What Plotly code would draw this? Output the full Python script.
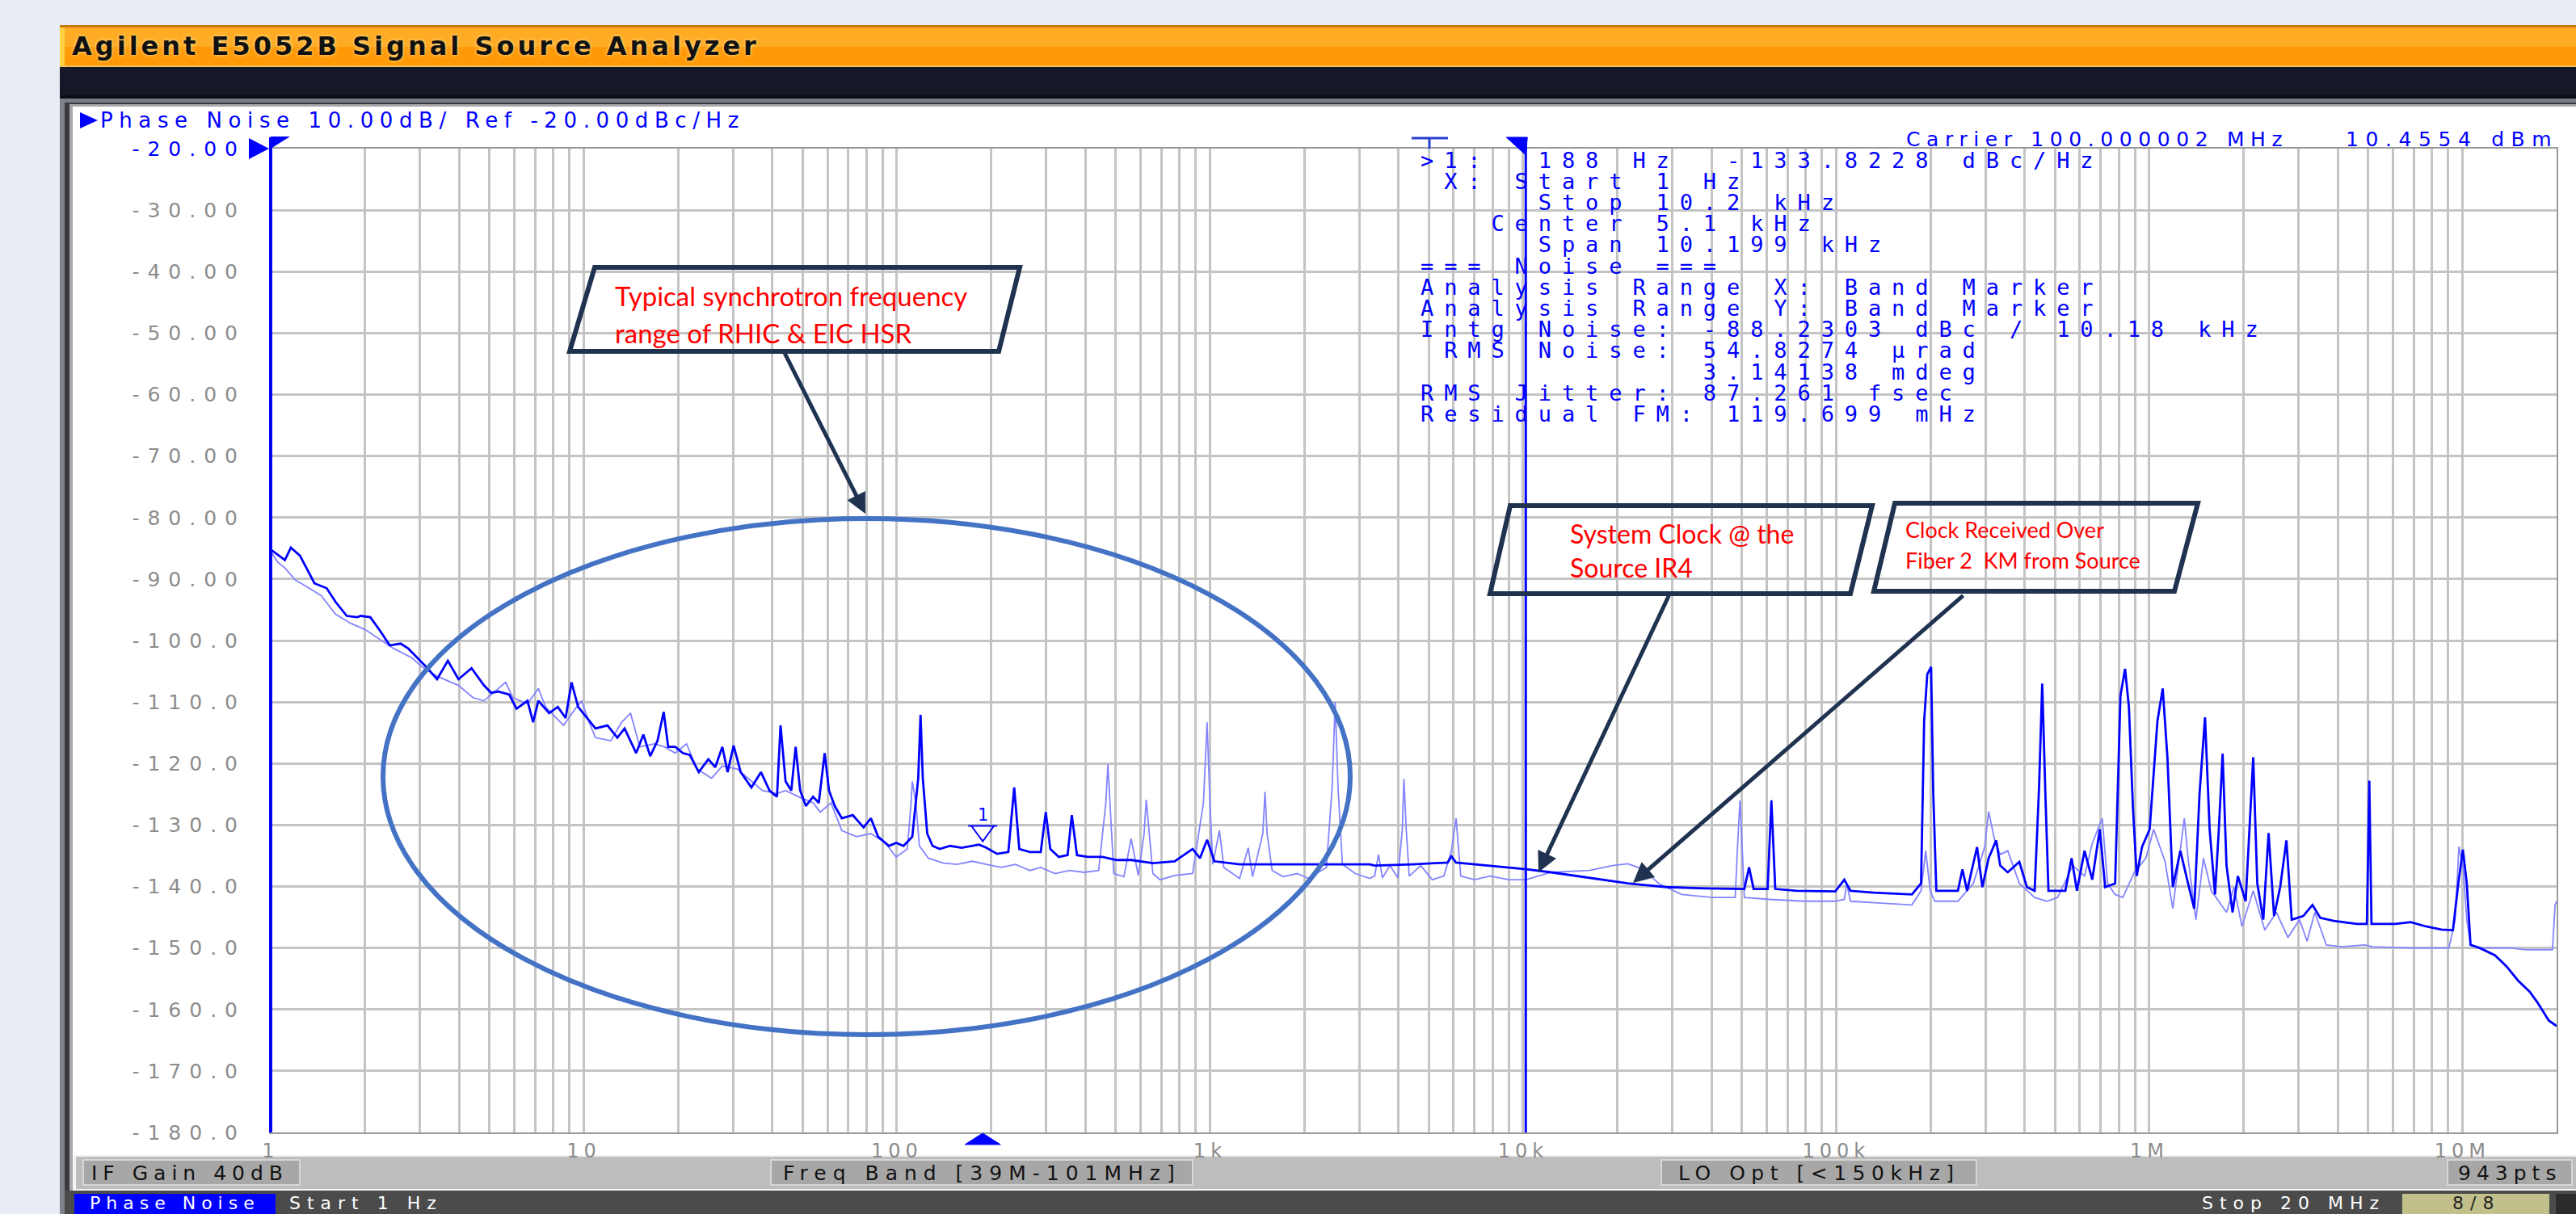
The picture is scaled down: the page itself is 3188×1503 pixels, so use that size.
import math
import plotly.graph_objects as go

# ---------------- data ----------------
# Trace A: dark blue (System clock @ the source IR4)
trace_a_freq_hz = [
    1, 1.11, 1.16, 1.24, 1.38, 1.51, 1.61, 1.75, 1.89, 1.94,
    2.08, 2.22, 2.40, 2.60, 2.75, 2.90, 3.14, 3.40, 3.68, 3.98,
    4.38, 4.80, 5.06, 5.34, 5.78, 6.10, 6.61, 6.89, 7.16, 7.75,
    8.26, 8.75, 9.14, 9.59, 10.3, 10.9, 11.9, 12.8, 13.5, 14.7,
    15.5, 16.3, 17.2, 18.0, 18.6, 19.6, 20.7, 21.8, 23.3, 25.0,
    26.3, 27.7, 28.8, 30.1, 31.7, 34.3, 36.8, 39.2, 41.4, 42.5,
    44.1, 46.0, 47.5, 49.1, 51.2, 54.0, 56.3, 58.8, 60.7, 63.3,
    66.7, 72.3, 78.3, 82.6, 87.1, 94.3, 99.5, 105, 112, 117,
    119, 121, 125, 130, 137, 148, 161, 174, 183, 193,
    209, 227, 237, 246, 266, 288, 299, 309, 329, 351,
    362, 376, 407, 453, 504, 560, 657, 771, 880, 929,
    979, 1033, 1244, 1538, 2009, 2483, 3239,
    3357, 4453, 5745, 5905, 6109, 7834, 10210, 12300, 16300, 21600,
    28700, 38000, 50900, 52700, 54500, 60400, 62100, 63900, 74800, 99300,
    106200, 111100, 131600, 174600, 186700, 191000, 195400, 201000, 204200, 208900,
    244800, 253100, 261900, 281800, 293100, 306900, 324500, 334100, 353200, 384600,
    406500, 430500, 444800, 455100, 465700, 476500, 539500, 564800, 587500, 621300,
    657600, 695100, 722900, 778000, 809000, 837000, 861000, 887000, 912000, 948000,
    1003000, 1062000, 1104000, 1143000, 1189000, 1257000, 1330000, 1392000, 1448000, 1507000,
    1559000, 1622000, 1668000, 1715000, 1765000, 1845000, 1919000, 2032000, 2148000, 2213000,
    2313000, 2405000, 2504000, 2619000, 2742000, 2851000, 3104000, 3321000, 3516000, 3890000,
    4604000, 4955000, 5044000, 5126000, 6110000, 6839000, 7656000, 8570000, 9330000, 9706000,
    10040000, 10330000, 10620000, 11360000, 12710000, 13840000, 15060000, 16400000, 17340000, 18880000,
    20000000,
]
trace_a_dbc = [
    -85.2, -86.9, -84.9, -86.2, -90.7, -91.5, -93.7, -96.0, -96.2, -96.0,
    -96.2, -98.2, -100.8, -100.5, -101.3, -102.5, -104.3, -106.3, -103.3, -106.3,
    -104.5, -107.3, -108.5, -108.3, -108.8, -111.1, -109.8, -113.3, -109.8, -111.8,
    -110.8, -112.6, -106.8, -110.8, -112.8, -114.3, -113.8, -115.8, -114.3, -118.3,
    -115.3, -118.8, -116.3, -111.6, -117.3, -117.3, -118.3, -118.6, -121.4, -119.3,
    -120.6, -117.3, -121.4, -117.1, -121.4, -123.9, -121.4, -124.4, -125.4, -113.8,
    -122.9, -124.4, -117.3, -124.4, -126.9, -125.4, -126.4, -118.3, -124.4, -126.9,
    -128.9, -128.4, -130.4, -128.9, -131.9, -133.4, -132.9, -133.4, -131.9, -122.4,
    -112.1, -122.4, -131.4, -133.4, -133.9, -133.4, -133.7, -133.4, -133.2, -133.7,
    -134.7, -134.4, -123.9, -133.9, -134.4, -134.4, -127.9, -133.9, -135.2, -134.9,
    -128.4, -134.9, -135.2, -135.2, -135.7, -135.7, -136.2, -135.9, -133.9, -135.4,
    -132.4, -135.9, -136.4, -136.4, -136.4, -136.4, -136.4,
    -136.6, -136.4, -136.1, -135.1, -136.1, -136.6, -137.2, -137.7, -138.6, -139.5,
    -140.1, -140.3, -140.4, -136.9, -140.4, -140.4, -126.0, -140.4, -140.7, -140.8,
    -138.9, -140.7, -141.0, -141.3, -139.5, -113.1, -105.5, -104.3, -124.8, -140.7,
    -140.7, -137.2, -140.7, -133.6, -140.1, -135.4, -132.5, -136.6, -137.7, -136.0,
    -140.1, -140.7, -123.7, -107.0, -124.8, -140.7, -140.7, -135.4, -140.7, -134.2,
    -138.9, -130.7, -140.1, -139.5, -109.0, -104.6, -110.8, -127.2, -138.3, -133.6,
    -130.7, -113.1, -107.8, -119.0, -140.1, -134.2, -139.5, -143.6, -124.8, -112.5,
    -130.7, -141.3, -130.7, -118.4, -136.6, -144.2, -138.3, -142.4, -119.0, -139.5,
    -145.4, -131.3, -144.8, -140.1, -132.5, -145.4, -144.8, -143.0, -145.1, -145.6,
    -146.1, -146.1, -122.8, -146.1, -146.1, -145.8, -146.5, -147.0, -147.1, -139.5,
    -134.0, -139.5, -149.5, -150.0, -151.2, -153.0, -155.3, -157.1, -158.8, -161.8,
    -162.7,
]

# Trace B: light blue (clock received over 2 km fibre)
trace_b_freq_hz = [
    1, 1.05, 1.11, 1.20, 1.30, 1.45, 1.61, 1.80, 2.00, 2.22,
    2.47, 2.82, 3.05, 3.40, 3.98, 4.43, 4.80, 5.20, 5.63, 5.94,
    6.61, 7.16, 7.55, 8.62, 9.33, 9.84, 10.4, 10.9, 12.2, 13.2,
    14.1, 15.1, 16.8, 18.1, 19.6, 21.3, 23.0, 25.6, 27.7, 30.9,
    33.4, 37.2, 41.4, 44.1, 48.5, 54.0, 56.9, 61.6, 66.7, 74.3,
    82.6, 91.8, 99.5, 108, 111, 112, 115, 118, 126, 141,
    156, 174, 193, 215, 239, 266, 288, 320, 356, 396,
    441, 465, 472, 480, 493, 531, 560, 590, 616, 626,
    640, 657, 693, 771, 880, 953, 979, 1000, 1021, 1072,
    1107, 1244, 1325, 1368, 1475, 1499, 1522, 1580, 1711, 1902,
    2061, 2354, 2456, 2511, 2565, 2648, 2913, 3239,
    3357, 3454, 3554, 3758, 3981, 4115, 4163, 4235, 4329, 4712,
    5129, 5585, 5905, 6109, 6324, 6998, 7834, 9022, 10210, 12300,
    16300, 19300, 21600, 24200, 27100, 32100, 40200, 47600, 48400, 49300,
    50100, 50900, 61400, 79200, 99300, 106200, 108000, 111100, 139300, 174600,
    186700, 193200, 199700, 206500, 244800, 274200, 298100, 306900, 320800, 334100,
    353200, 384600, 430500, 471000, 509300, 570200, 621300, 657600, 707500, 735800,
    778000, 823600, 896000, 975000, 1033000, 1124000, 1189000, 1294000, 1330000, 1409000,
    1490000, 1578000, 1765000, 1866000, 1977000, 2148000, 2339000, 2546000, 2773000, 3020000,
    3192000, 3379000, 3677000, 4115000, 4873000, 5160000, 6839000, 9057000, 9485000, 9750000,
    10040000, 10330000, 10620000, 11360000, 14250000, 15950000, 19410000, 19770000, 20000000,
]
trace_b_dbc = [
    -85.4, -87.2, -88.2, -90.2, -91.2, -92.7, -95.7, -97.2, -98.2, -99.7,
    -101.3, -102.8, -104.3, -105.8, -107.3, -109.3, -109.8, -108.3, -106.8, -109.3,
    -110.3, -107.8, -110.8, -113.8, -111.3, -109.8, -113.3, -115.8, -116.3, -113.3,
    -111.8, -117.3, -116.8, -117.3, -118.3, -116.8, -120.9, -122.4, -120.4, -120.9,
    -122.4, -124.4, -124.9, -124.4, -125.4, -126.4, -127.9, -126.4, -130.9, -131.9,
    -131.4, -132.9, -135.2, -133.9, -126.4, -122.9, -126.4, -133.4, -135.4, -136.2,
    -136.4, -135.9, -136.4, -136.9, -136.4, -137.4, -136.9, -137.9, -137.4, -137.7,
    -137.4, -126.4, -120.1, -126.4, -137.9, -138.4, -132.2, -138.2, -131.4, -125.9,
    -131.4, -137.9, -138.9, -138.2, -137.9, -126.4, -113.3, -126.4, -136.4, -130.9,
    -136.9, -138.7, -133.7, -138.4, -131.4, -124.6, -131.4, -137.4, -138.4, -137.9,
    -138.7, -136.9, -123.9, -110.0, -123.9, -136.4, -137.9, -138.7,
    -138.3, -134.8, -138.6, -136.6, -138.6, -130.7, -122.5, -130.7, -138.3, -136.6,
    -138.9, -138.3, -134.2, -128.9, -138.3, -138.9, -138.3, -138.9, -138.9, -137.7,
    -137.4, -136.6, -136.3, -137.2, -139.5, -141.3, -141.8, -141.8, -133.6, -126.0,
    -133.6, -141.8, -142.1, -142.4, -142.4, -142.1, -139.5, -142.4, -142.7, -143.0,
    -140.7, -134.2, -140.7, -142.4, -142.4, -139.5, -133.6, -127.8, -132.5, -134.8,
    -134.2, -139.5, -141.8, -142.4, -141.8, -136.6, -138.3, -133.0, -128.9, -139.5,
    -141.3, -141.8, -137.7, -135.4, -130.7, -136.0, -143.6, -128.9, -135.4, -145.4,
    -135.4, -140.7, -144.2, -140.1, -146.5, -140.7, -147.1, -144.2, -148.3, -145.4,
    -148.9, -144.2, -149.5, -149.8, -149.5, -149.8, -150.0, -150.0, -145.4, -133.5,
    -136.6, -145.4, -149.5, -150.0, -150.0, -150.3, -150.3, -143.0, -142.4,
]

y_tick_vals = [-20, -30, -40, -50, -60, -70, -80, -90, -100, -110, -120, -130, -140, -150, -160, -170, -180]
y_tick_text = ["-20.00", "-30.00", "-40.00", "-50.00", "-60.00", "-70.00", "-80.00", "-90.00",
               "-100.0", "-110.0", "-120.0", "-130.0", "-140.0", "-150.0", "-160.0", "-170.0", "-180.0"]
x_decade_vals = [1, 10, 100, 1000, 10000, 100000, 1000000, 10000000]
x_decade_text = ["1", "10", "100", "1k", "10k", "100k", "1M", "10M"]
x_stop_hz = 20000000

marker_freq_hz = 188
marker_dbc = -133.8228
band_stop_hz = 10200

readout_lines = [
    ">1:  188 Hz  -133.8228 dBc/Hz",
    " X: Start 1 Hz",
    "     Stop 10.2 kHz",
    "   Center 5.1 kHz",
    "     Span 10.199 kHz",
    "=== Noise ===",
    "Analysis Range X: Band Marker",
    "Analysis Range Y: Band Marker",
    "Intg Noise: -88.2303 dBc / 10.18 kHz",
    " RMS Noise: 54.8274 \u00b5rad",
    "            3.14138 mdeg",
    "RMS Jitter: 87.261 fsec",
    "Residual FM: 119.699 mHz",
]

# ---------------- page geometry ----------------
W, H = 3188, 1503
PL, PR, PT, PB = 335, 3164, 184, 1402   # plot area in pixels


def px(x):
    return x / W


def py(y):
    return 1 - y / H


fig = go.Figure()

fig.add_trace(go.Scatter(x=trace_b_freq_hz, y=trace_b_dbc, mode="lines",
                         line=dict(color="#8484ff", width=1.8), hoverinfo="skip"))
fig.add_trace(go.Scatter(x=trace_a_freq_hz, y=trace_a_dbc, mode="lines",
                         line=dict(color="#0000ff", width=2.8), hoverinfo="skip"))

# gridline positions at 1..9 x each decade
grid_vals = [m * 10 ** k for k in range(8) for m in range(1, 10) if m * 10 ** k <= x_stop_hz]
grid_text = []
for v in grid_vals:
    if v in x_decade_vals:
        grid_text.append('<span style="letter-spacing:6px">%s</span>' % x_decade_text[x_decade_vals.index(v)])
    else:
        grid_text.append("")

y_text_fmt = []
for i, t in enumerate(y_tick_text):
    col = "#0000ff" if i == 0 else "#8c8c8c"
    y_text_fmt.append('<span style="letter-spacing:10px;fill:%s">%s</span>' % (col, t))

fig.update_layout(
    width=W, height=H, autosize=False,
    margin=dict(l=0, r=0, t=0, b=0, pad=0, autoexpand=False),
    paper_bgcolor="#e8ecf4", plot_bgcolor="white",
    showlegend=False,
    xaxis=dict(type="log", range=[0, math.log10(x_stop_hz)],
               domain=[px(PL), px(PR)], automargin=False,
               tickmode="array", tickvals=grid_vals, ticktext=grid_text, tickangle=0,
               ticks="", showgrid=True, gridcolor="#c4c4c4", gridwidth=2.5,
               showline=True, linecolor="#9a9a9a", linewidth=2, mirror=True,
               zeroline=False, ticklabelstandoff=0,
               tickfont=dict(family="DejaVu Sans", size=24, color="#8c8c8c")),
    yaxis=dict(range=[-180, -20], domain=[py(PB), py(PT)], automargin=False,
               tickmode="array", tickvals=y_tick_vals, ticktext=y_text_fmt,
               ticks="", showgrid=True, gridcolor="#c4c4c4", gridwidth=2.5,
               showline=True, linecolor="#9a9a9a", linewidth=2, mirror=True,
               zeroline=False, ticklabelstandoff=24,
               tickfont=dict(family="DejaVu Sans", size=25, color="#8c8c8c")),
)


def rect(x0, y0, x1, y1, fill, layer="below", line_color=None, line_width=0):
    fig.add_shape(type="rect", xref="paper", yref="paper",
                  x0=px(x0), x1=px(x1), y0=py(y1), y1=py(y0),
                  fillcolor=fill, layer=layer,
                  line=dict(color=line_color or "rgba(0,0,0,0)", width=line_width))


def poly(points, fill=None, color=None, width=0, layer="above", closed=True):
    d = "M " + " L ".join("%.6f,%.6f" % (px(x), py(y)) for x, y in points) + (" Z" if closed else "")
    fig.add_shape(type="path", xref="paper", yref="paper", path=d, layer=layer,
                  fillcolor=fill or "rgba(0,0,0,0)",
                  line=dict(color=color or "rgba(0,0,0,0)", width=width))


def text(x, y, s, size, color, family="DejaVu Sans", xanchor="left", yanchor="middle",
         spacing=0, weight="normal", shadow=None):
    t = s if not spacing else '<span style="letter-spacing:%spx">%s</span>' % (spacing, s)
    f = dict(family=family, size=size, color=color, weight=weight)
    if shadow:
        f["shadow"] = shadow
    fig.add_annotation(x=px(x), y=py(y), xref="paper", yref="paper", text=t, showarrow=False,
                       xanchor=xanchor, yanchor=yanchor, font=f, borderpad=0)


# ---------------- instrument window frame ----------------
rect(74, 31, W, H, "#3a3a3e")
rect(74, 31, W, 34, "#c87a08")
rect(74, 34, W, 58, "#ffab24")
rect(74, 58, W, 81, "#ff9908")
rect(74, 81, W, 83, "#f2c060")
rect(74, 34, 80, 81, "#ffd040")
rect(74, 83, W, 118, "#151827")
rect(74, 118, W, 122, "#0b0c14")
rect(74, 122, W, 127, "#7a7d86")
rect(74, 122, 80, H, "#7d828c")
rect(86, 129, W, 1474, "#a9a9ab")
rect(90, 132, W, 1430, "#ffffff")
rect(90, 1430, W, 1474, "#f4f4f4")
rect(94, 1432, W, 1472, "#bdbdbd")
rect(80, 1474, W, H, "#4b4b4b")

# status buttons
for (x0, x1) in [(103, 371), (954, 1476), (2056, 2446), (3029, 3183)]:
    rect(x0, 1436, x1, 1467, "#a7a7a7", line_color="#d6d6d6", line_width=2)
rect(92, 1478, 341, H, "#0000ff")
rect(2973, 1478, 3155, H, "#c2c08a")
rect(3163, 1478, W, H, "#2c2c2c")

# title
text(88, 57, "Agilent E5052B Signal Source Analyzer", 32, "#111111", weight="bold",
     spacing=4, shadow="0px 0px 4px #ffe7a0")

# trace header
poly([(99, 139), (121, 149), (99, 159)], fill="#0000ff", layer="above")
text(123, 149, "Phase Noise 10.00dB/ Ref -20.00dBc/Hz", 26, "#0000ff", spacing=7.6)
text(2358, 172, "Carrier 100.000002 MHz", 25, "#0000ff", spacing=7.6)
text(2902, 172, "10.4554 dBm", 25, "#0000ff", spacing=8.6)

# status bar texts
text(112, 1452, "IF Gain 40dB", 25, "#111111", spacing=7)
text(1215, 1452, "Freq Band [39M-101MHz]", 25, "#111111", xanchor="center", spacing=8)
text(2251, 1452, "LO Opt [&lt;150kHz]", 25, "#111111", xanchor="center", spacing=7.5)
text(3106, 1452, "943pts", 25, "#111111", xanchor="center", spacing=7)
text(216, 1489, "Phase Noise", 22, "#ffffff", xanchor="center", spacing=7)
text(357, 1489, "Start 1 Hz", 22, "#ffffff", spacing=8)
text(2953, 1489, "Stop 20 MHz", 22, "#ffffff", xanchor="right", spacing=8)
text(3064, 1489, "8/8", 22, "#222222", xanchor="center", spacing=8)

# ---------------- axis decorations ----------------
fig.add_shape(type="line", xref="paper", yref="paper", x0=px(PL), x1=px(PL), y0=py(PB), y1=py(170),
              line=dict(color="#0000ff", width=4), layer="above")
poly([(308, 171), (333, 184), (308, 197)], fill="#0000ff")
poly([(335, 169), (359, 169), (335, 184)], fill="#0000ff")

# band stop marker line
fig.add_shape(type="line", xref="x", yref="paper", x0=band_stop_hz, x1=band_stop_hz,
              y0=py(PB), y1=py(172), line=dict(color="#0000ff", width=3), layer="above")
fig.add_shape(type="path", xref="x", yref="paper", xsizemode="pixel", xanchor=band_stop_hz,
              path="M -24,%.6f L 2,%.6f L 0,%.6f Z" % (py(170), py(170), py(192)),
              fillcolor="#0000ff", line=dict(color="#0000ff", width=1), layer="above")
# band start "T" symbol
poly([(1747, 171), (1792, 171)], color="#2a3ed0", width=3, closed=False)
poly([(1769, 171), (1769, 184)], color="#2a3ed0", width=3, closed=False)

# marker 1
fig.add_shape(type="path", xref="x", yref="y", xsizemode="pixel", ysizemode="pixel",
              xanchor=marker_freq_hz, yanchor=marker_dbc,
              path="M -18,28 L 18,28 M -14,28 L 0,9 L 14,28",
              line=dict(color="#0000ff", width=2), layer="above")
fig.add_annotation(x=math.log10(marker_freq_hz), y=marker_dbc, xref="x", yref="y", text="1",
                   showarrow=False, yshift=41, font=dict(family="DejaVu Sans", size=21, color="#0000ff"))
fig.add_shape(type="path", xref="x", yref="paper", xsizemode="pixel", xanchor=marker_freq_hz,
              path="M -22,%.6f L 22,%.6f L 0,%.6f Z" % (py(1417), py(1417), py(1403)),
              fillcolor="#0000ff", line=dict(color="#0000ff", width=1), layer="above")

# readout block
for i, line in enumerate(readout_lines):
    text(1757, 198 + 26.2 * i, line.replace(" ", "\u00a0"), 27, "#0000ff",
         family="DejaVu Sans Mono", spacing=12.9)

# ---------------- overlay annotations (ellipse, callouts, arrows) ----------------
fig.add_shape(type="circle", xref="paper", yref="paper",
              x0=px(474), x1=px(1671), y0=py(1281), y1=py(642),
              line=dict(color="#4472c4", width=6), layer="above")

box_col = "#1f3350"
poly([(736, 331), (1262, 331), (1236, 435), (705, 435)], color=box_col, width=6)
poly([(1869, 626), (2317, 626), (2290, 735), (1844, 735)], color=box_col, width=6)
poly([(2345, 623), (2720, 623), (2691, 732), (2319, 732)], color=box_col, width=6)

text(760, 366, "Typical synchrotron frequency", 33, "#ff0000", family="Lato")
text(760, 412, "range of RHIC &amp; EIC HSR", 33, "#ff0000", family="Lato")
text(1942, 660, "System Clock @ the", 32, "#ff0000", family="Lato")
text(1942, 703, "Source IR4", 32, "#ff0000", family="Lato")
text(2357, 655, "Clock Received Over", 27, "#ff0000", family="Lato")
text(2357, 693, "Fiber 2\u00a0 KM from Source", 27, "#ff0000", family="Lato")

for (tx, ty, hx, hy) in [(970, 435, 1071, 636), (2066, 736, 1904, 1080), (2431, 736, 2021, 1093)]:
    fig.add_annotation(x=px(hx), y=py(hy), xref="paper", yref="paper",
                       ax=tx - hx, ay=ty - hy, axref="pixel", ayref="pixel",
                       text="", showarrow=True, arrowhead=2, arrowsize=1, arrowwidth=5,
                       arrowcolor=box_col, standoff=0)

fig.write_html("out.html",
               config={"displayModeBar": False},
               post_script="document.body.style.margin='0px';"
                           "document.body.style.background='#e8ecf4';"
                           "document.body.style.overflow='hidden';")
